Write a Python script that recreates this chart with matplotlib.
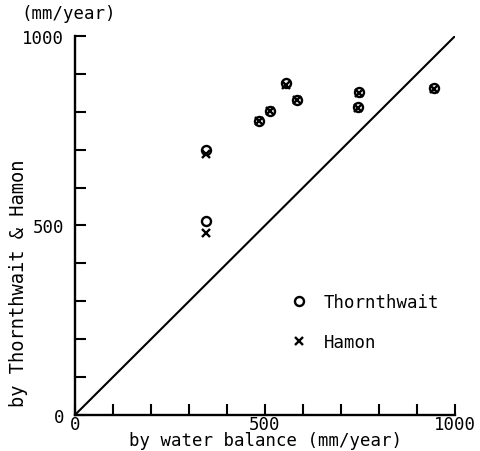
import matplotlib.pyplot as plt
import numpy as np

# water balance estimate (x) vs. Thornthwait / Hamon estimates (y), mm/year
wb = [345, 345, 484, 513, 554, 583, 744, 746, 945]
thornthwait = [700, 511, 777, 803, 876, 832, 812, 853, 862]
hamon = [688, 481, 775, 801, 872, 830, 810, 851, 860]

plt.rcParams['font.family'] = ['DejaVu Sans Mono']
plt.rcParams['font.size'] = 12.5

fig = plt.figure(figsize=(4.81, 4.52), dpi=100)
ax = fig.add_axes([0.156, 0.080, 0.790, 0.838])

ax.plot([0, 1000], [0, 1000], color='black', lw=1.5)
ax.plot(wb, thornthwait, linestyle='none', marker='o', ms=6.5, mfc='none',
        mec='black', mew=1.7, label='Thornthwait')
ax.plot(wb, hamon, linestyle='none', marker='x', ms=6, color='black',
        mew=1.7, label='Hamon')

ax.set_xlim(0, 1000)
ax.set_ylim(0, 1000)
ax.set_xticks([0, 500, 1000])
ax.set_yticks([0, 500, 1000])
ax.set_xticks(np.arange(0, 1001, 100), minor=True)
ax.set_yticks(np.arange(0, 1001, 100), minor=True)
ax.tick_params(which='both', direction='in', length=8, width=1.5)
ax.tick_params(axis='x', pad=0)
ax.tick_params(axis='y', pad=8)
for s in ['top', 'right']:
    ax.spines[s].set_visible(False)
for s in ['left', 'bottom']:
    ax.spines[s].set_linewidth(1.7)

ax.set_xlabel('by water balance (mm/year)', labelpad=-1)
ax.set_ylabel('by Thornthwait & Hamon', fontsize=13.5)
ax.yaxis.set_label_coords(-0.125, 0.35)
fig.text(0.045, 0.968, '(mm/year)', ha='left', va='center')

ax.legend(loc='upper left', bbox_to_anchor=(0.545, 0.345), frameon=False,
          handlelength=1.0, handletextpad=0.9, labelspacing=1.3,
          borderpad=0)

fig.savefig('out.png', dpi=100)
